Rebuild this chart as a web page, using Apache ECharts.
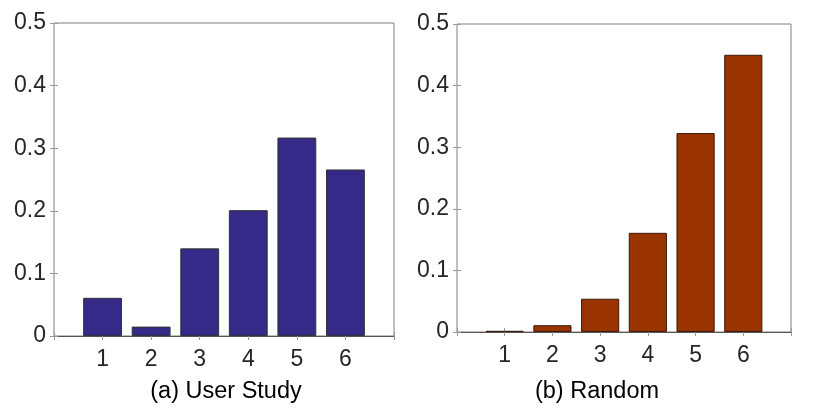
<!DOCTYPE html>
<html>
<head>
<meta charset="utf-8">
<script src="https://cdn.jsdelivr.net/npm/echarts@6/dist/echarts.min.js"></script>
<style>
html,body{margin:0;padding:0;background:#fff;}
#chart{width:814px;height:419px;}
</style>
</head>
<body>
<div id="chart"></div>
<script>
// ---- data ----
const categories = [1, 2, 3, 4, 5, 6];
const userStudy = [0.061, 0.015, 0.140, 0.201, 0.317, 0.266];
const randomVals = [0.002, 0.011, 0.054, 0.161, 0.323, 0.450];
const yTicks = [0, 0.1, 0.2, 0.3, 0.4, 0.5];
const titles = ['(a) User Study', '(b) Random'];

const FONT = '"Liberation Sans", Arial, Helvetica, sans-serif';
const TXT = '#262626';
const FRAME = '#808080';

const chart = echarts.init(document.getElementById('chart'), null, {renderer: 'canvas'});

const grids = [
  {left: 54, top: 23, width: 340, height: 313},
  {left: 457, top: 24, width: 334, height: 308}
];

function xAxes(gi) {
  return [
    {
      type: 'value', gridIndex: gi, position: 'bottom',
      min: 0, max: categories.length + 1, interval: 1,
      axisLine: {show: true, lineStyle: {color: '#555', width: 1}},
      axisTick: {show: true, inside: true, length: 4, lineStyle: {color: '#999'}},
      axisLabel: {
        show: true, margin: 12, fontFamily: FONT, fontSize: 23, color: TXT,
        formatter: v => categories.indexOf(v) >= 0 ? String(v) : ''
      },
      splitLine: {show: false}
    },
    {
      type: 'value', gridIndex: gi, position: 'top',
      min: 0, max: categories.length + 1, interval: 1,
      axisLine: {show: false},
      axisTick: {show: true, inside: true, length: 4, lineStyle: {color: '#999'}},
      axisLabel: {show: false},
      splitLine: {show: false}
    }
  ];
}
function yAxes(gi) {
  return [
    {
      type: 'value', gridIndex: gi, position: 'left',
      min: yTicks[0], max: yTicks[yTicks.length - 1], interval: 0.1,
      axisLine: {show: false},
      axisTick: {show: true, inside: true, length: 4, lineStyle: {color: '#999'}},
      axisLabel: {
        show: true, margin: 8, fontFamily: FONT, fontSize: 23, color: TXT,
        padding: [3, 0, 0, 0],
        formatter: v => v === 0 ? '0' : v.toFixed(1)
      },
      splitLine: {show: false}
    },
    {
      type: 'value', gridIndex: gi, position: 'right',
      min: yTicks[0], max: yTicks[yTicks.length - 1], interval: 0.1,
      axisLine: {show: false},
      axisTick: {show: true, inside: true, length: 4, lineStyle: {color: '#999'}},
      axisLabel: {show: false},
      splitLine: {show: false}
    }
  ];
}

const option = {
  backgroundColor: '#fff',
  animation: false,
  grid: grids.map(g => Object.assign({show: true, borderColor: FRAME, borderWidth: 1, backgroundColor: 'transparent'}, g)),
  xAxis: [...xAxes(0), ...xAxes(1)],
  yAxis: [...yAxes(0), ...yAxes(1)],
  series: [
    {
      type: 'bar', xAxisIndex: 0, yAxisIndex: 0, barWidth: '80%',
      data: categories.map((c, i) => [c, userStudy[i]]),
      itemStyle: {color: '#352a87', borderColor: '#333', borderWidth: 1}
    },
    {
      type: 'bar', xAxisIndex: 2, yAxisIndex: 2, barWidth: '80%',
      data: categories.map((c, i) => [c, randomVals[i]]),
      itemStyle: {color: '#993300', borderColor: '#3a1a0a', borderWidth: 1}
    }
  ],
  graphic: [
    {type: 'text', x: 226, y: 392, style: {text: titles[0], x: 0, y: 0, align: 'center', verticalAlign: 'middle', fontFamily: FONT, fontSize: 23.5, fill: '#000'}},
    {type: 'text', x: 597, y: 392, style: {text: titles[1], x: 0, y: 0, align: 'center', verticalAlign: 'middle', fontFamily: FONT, fontSize: 23.5, fill: '#000'}}
  ]
};
chart.setOption(option);
</script>
</body>
</html>
